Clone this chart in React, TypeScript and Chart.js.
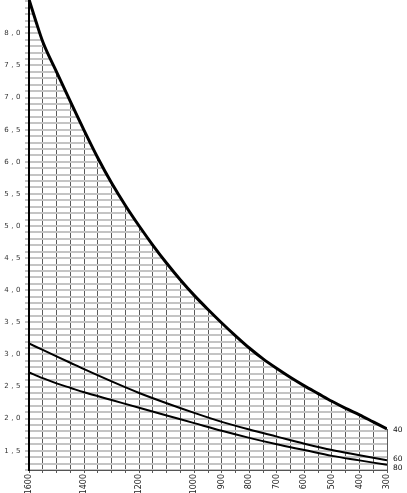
import { useEffect, useRef } from "react";
import { Chart, registerables } from "chart.js";

Chart.register(...registerables);

const SERIES_NAMES = ["40", "60", "80"];

const X_40 = [1600, 1575, 1550, 1500, 1450, 1400, 1350, 1300, 1250, 1200, 1150, 1100, 1050, 1000, 950, 900, 850, 800, 750, 700, 650, 600, 550, 500, 450, 400, 350, 300];
const Y_40 = [8.53, 8.19, 7.87, 7.4, 6.94, 6.49, 6.06, 5.67, 5.32, 5.0, 4.7, 4.42, 4.16, 3.92, 3.7, 3.49, 3.29, 3.1, 2.93, 2.78, 2.64, 2.51, 2.39, 2.27, 2.16, 2.06, 1.95, 1.84];

const X_60 = [1600, 1550, 1500, 1450, 1400, 1300, 1200, 1100, 1000, 900, 800, 700, 600, 500, 400, 300];
const Y_60 = [3.17, 3.07, 2.97, 2.87, 2.77, 2.58, 2.4, 2.24, 2.09, 1.95, 1.83, 1.72, 1.61, 1.51, 1.43, 1.35];

const X_80 = [1600, 1550, 1500, 1450, 1400, 1300, 1200, 1100, 1000, 900, 800, 700, 600, 500, 400, 300];
const Y_80 = [2.72, 2.63, 2.55, 2.48, 2.41, 2.29, 2.17, 2.05, 1.93, 1.81, 1.7, 1.6, 1.51, 1.42, 1.35, 1.28];

const X_TICK_LABELS = [1600, 1400, 1200, 1000, 900, 800, 700, 600, 500, 400, 300];
const Y_TICK_LABELS = [1.5, 2.0, 2.5, 3.0, 3.5, 4.0, 4.5, 5.0, 5.5, 6.0, 6.5, 7.0, 7.5, 8.0];

const X_MIN = 300;
const X_MAX = 1600;
const Y_MIN = 1.2;
const Y_MAX = 8.52;

const toPoints = (xs: number[], ys: number[]) => xs.map((x, i) => ({ x, y: ys[i] }));

const endLabelOffsets = [1, -1.5, 3.5];

// Hides the grid above the top curve (the reference grid only fills the area under it)
const maskAbovePlugin = {
  id: "maskAbove",
  beforeDatasetsDraw(chart: any) {
    const meta = chart.getDatasetMeta(0);
    const line = meta.dataset;
    const pts = meta.data;
    if (!line || !pts.length) return;
    const ctx = chart.ctx;
    const area = chart.chartArea;
    line.updateControlPoints(area, "x");
    const first = pts[0];
    const last = pts[pts.length - 1];
    ctx.save();
    ctx.beginPath();
    line.path(ctx);
    ctx.lineTo(last.x + 4, last.y);
    ctx.lineTo(last.x + 4, area.top - 4);
    ctx.lineTo(first.x, area.top - 4);
    ctx.closePath();
    ctx.fillStyle = "#fff";
    ctx.fill();
    ctx.restore();
  },
};

const endLabelsPlugin = {
  id: "endLabels",
  afterDatasetsDraw(chart: any) {
    const ctx = chart.ctx;
    ctx.save();
    ctx.font = '7.5px "DejaVu Sans"';
    ctx.fillStyle = "#111";
    ctx.textAlign = "left";
    ctx.textBaseline = "middle";
    chart.data.datasets.forEach((ds: any, i: number) => {
      const meta = chart.getDatasetMeta(i);
      const pt = meta.data[meta.data.length - 1];
      if (!pt) return;
      ctx.fillText(ds.label, pt.x + 6, pt.y + endLabelOffsets[i]);
    });
    ctx.restore();
  },
};

const yLabelsPlugin = {
  id: "yLabels",
  afterDraw(chart: any) {
    const ctx = chart.ctx;
    const y = chart.scales.y;
    ctx.save();
    ctx.font = '7px "DejaVu Sans"';
    (ctx as any).letterSpacing = "2.5px";
    ctx.fillStyle = "#333";
    ctx.textAlign = "right";
    ctx.textBaseline = "middle";
    Y_TICK_LABELS.forEach((v) => {
      ctx.fillText(v.toFixed(1).replace(".", ","), chart.chartArea.left - 6, y.getPixelForValue(v));
    });
    ctx.restore();
  },
};

export default function App() {
  const ref = useRef<HTMLCanvasElement | null>(null);

  useEffect(() => {
    if (!ref.current) return;
    const common = {
      borderColor: "#000",
      pointRadius: 0,
      cubicInterpolationMode: "monotone" as const,
      fill: false,
    };
    const chart = new Chart(ref.current, {
      type: "line",
      data: {
        datasets: [
          { ...common, label: SERIES_NAMES[0], data: toPoints(X_40, Y_40), borderWidth: 3 },
          { ...common, label: SERIES_NAMES[1], data: toPoints(X_60, Y_60), borderWidth: 2 },
          { ...common, label: SERIES_NAMES[2], data: toPoints(X_80, Y_80), borderWidth: 2 },
        ],
      },
      options: {
        animation: false,
        responsive: false,
        devicePixelRatio: 1,
        layout: { padding: { left: 0, top: 0, right: 20, bottom: 0 } },
        plugins: {
          legend: { display: false },
          tooltip: { enabled: false },
        },
        scales: {
          x: {
            type: "linear",
            reverse: true,
            min: X_MIN,
            max: X_MAX,
            afterFit: (s: any) => {
              s.height = 23;
            },
            grid: {
              color: "#5a5a5a",
              lineWidth: 1,
              tickLength: 3,
            },
            border: { color: "#555", width: 1 },
            ticks: {
              stepSize: 50,
              autoSkip: false,
              maxRotation: 90,
              minRotation: 90,
              padding: 1,
              color: "#222",
              font: { family: '"DejaVu Sans"', size: 8 },
              callback: (v: any) => (X_TICK_LABELS.includes(Number(v)) ? String(v) : ""),
            },
          },
          y: {
            type: "linear",
            min: Y_MIN,
            max: Y_MAX,
            afterFit: (s: any) => {
              s.width = 29;
            },
            grid: {
              color: "#c4c4c4",
              lineWidth: 2,
              tickLength: 4,
            },
            border: { color: "#000", width: 2 },
            ticks: {
              stepSize: 0.1,
              includeBounds: false,
              display: false,
            },
          },
        },
      },
      plugins: [maskAbovePlugin, endLabelsPlugin, yLabelsPlugin],
    });
    return () => chart.destroy();
  }, []);

  return (
    <div style={{ position: "absolute", left: 0, top: 0, width: 407, height: 493, background: "#fff" }}>
      <canvas ref={ref} width={407} height={493} style={{ display: "block" }} />
    </div>
  );
}
